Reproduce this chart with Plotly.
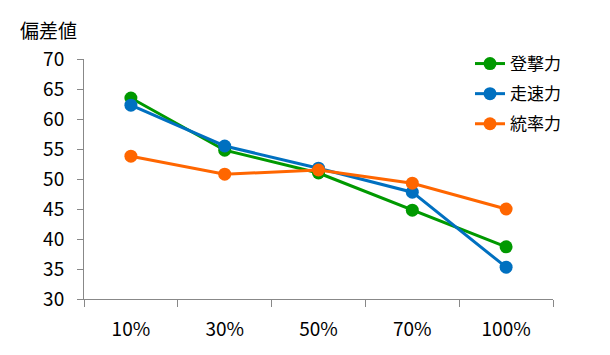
import plotly.graph_objects as go

categories = ["10%", "30%", "50%", "70%", "100%"]
series_names = ["登撃力", "走速力", "統率力"]
climb = [63.5, 54.8, 51.0, 44.8, 38.7]
speed = [62.3, 55.5, 51.8, 47.8, 35.3]
command = [53.8, 50.8, 51.5, 49.3, 45.0]
colors = ["rgb(0,153,0)", "rgb(0,112,192)", "rgb(255,102,0)"]
y_ticks = [30, 35, 40, 45, 50, 55, 60, 65, 70]
y_title = "偏差値"

FONT = "Noto Sans CJK JP, Meiryo, sans-serif"

# page body has an 8px margin; compensate so the plot area lands at (84..553, 59..299)
L, T, PW, PH = 76, 51, 469, 240

fig = go.Figure()
for name, vals, col in zip(series_names, [climb, speed, command], colors):
    fig.add_trace(go.Scatter(
        x=categories, y=vals, name=name, mode="lines+markers",
        line=dict(color=col, width=3),
        marker=dict(color=col, size=13),
        legendgroup=name,
    ))

fig.update_layout(
    width=610, height=355,
    margin=dict(l=L, r=610 - L - PW, t=T, b=355 - T - PH, autoexpand=False),
    paper_bgcolor="white", plot_bgcolor="white",
    font=dict(family=FONT, size=18, color="black"),
    showlegend=True,
    legend=dict(x=(470 - 84) / PW, y=1 - (46 - 59) / PH, xanchor="left", yanchor="top",
                bgcolor="rgba(0,0,0,0)", font=dict(size=17),
                tracegroupgap=5, itemwidth=30),
    xaxis=dict(
        type="category", showline=True, linecolor="#888888", linewidth=1,
        ticks="outside", tickson="boundaries", ticklen=7, tickcolor="#888888",
        showgrid=False, tickfont=dict(size=19), ticklabelstandoff=13,
        range=[-0.5, 4.5],
    ),
    yaxis=dict(
        range=[30, 70], tickvals=y_ticks, showline=True, linecolor="#888888",
        linewidth=1, ticks="outside", ticklen=6, tickcolor="#888888",
        showgrid=False, zeroline=False, tickfont=dict(size=19),
        ticklabelstandoff=9,
    ),
)
fig.add_annotation(text=y_title, xref="paper", yref="paper",
                   x=(18 - 84) / PW, y=1 + (59 - 30) / PH,
                   xanchor="left", yanchor="middle",
                   showarrow=False, font=dict(size=19))

fig.write_html("out.html")
